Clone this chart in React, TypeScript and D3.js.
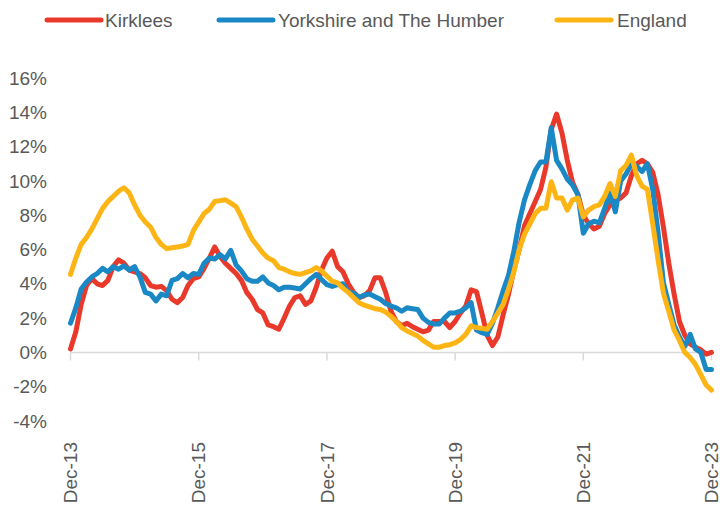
import * as d3 from 'd3';

const WIDTH = 723;
const HEIGHT = 508;

// monthly, Dec-13 .. Dec-23 (121 points), annual % change
const kirklees = [
  0.2, 1.2, 2.8, 3.9, 4.3, 4.0, 3.9, 4.2, 5.0, 5.4, 5.2, 4.8,
  4.7, 4.6, 4.35, 3.9, 3.8, 3.85, 3.6, 3.1, 2.9, 3.2, 3.9, 4.3,
  4.4, 4.9, 5.5, 6.15, 5.6, 5.2, 4.9, 4.6, 4.2, 3.5, 3.1, 2.5,
  2.3, 1.6, 1.5, 1.35, 2.0, 2.7, 3.2, 3.3, 2.8, 3.0, 3.8, 4.8,
  5.5, 5.9, 5.0, 4.7, 4.0, 3.5, 3.2, 3.3, 3.6, 4.35, 4.35, 3.5,
  2.4, 1.8, 1.55, 1.7, 1.5, 1.35, 1.2, 1.3, 1.8, 1.8, 1.8, 1.45,
  1.8, 2.3, 2.7, 3.65, 3.55, 2.3, 1.0, 0.4, 0.9, 2.2, 3.4, 4.8,
  6.0, 7.4, 8.1, 8.8, 9.5, 10.8, 13.0, 13.9, 12.8, 11.2, 9.9, 9.2,
  8.0, 7.5, 7.2, 7.35, 8.1, 8.6, 8.9, 9.0, 9.3, 10.3, 11.0, 11.2,
  11.0, 10.5, 9.2, 7.3, 5.2, 3.4, 1.8, 1.0, 0.5, 0.3, 0.15, -0.1,
  0.0,
];

const yorkshire = [
  1.7, 2.6, 3.7, 4.1, 4.4, 4.6, 4.9, 4.7, 5.0, 4.85, 5.05, 4.8,
  5.0, 4.4, 3.5, 3.4, 3.0, 3.4, 3.3, 4.2, 4.3, 4.6, 4.35, 4.6,
  4.55, 5.2, 5.5, 5.45, 5.7, 5.45, 5.95, 5.1, 4.75, 4.3, 4.15, 4.15,
  4.4, 4.05, 3.9, 3.65, 3.8, 3.8, 3.75, 3.7, 4.0, 4.3, 4.55, 4.25,
  3.95, 3.85, 3.95, 4.0, 3.55, 3.45, 3.2, 3.35, 3.4, 3.25, 3.1, 2.85,
  2.7, 2.6, 2.4, 2.6, 2.55, 2.5, 2.0, 1.75, 1.65, 1.65, 2.0, 2.3,
  2.3, 2.4, 2.6, 2.9, 1.3, 1.15, 1.05, 1.7, 2.6, 3.6, 4.5, 5.9,
  7.6, 8.9, 9.8, 10.6, 11.1, 11.1, 13.1, 11.2, 10.7, 10.1, 9.75, 9.2,
  6.95, 7.5, 7.65, 7.55, 8.4, 9.3, 8.2, 10.0, 10.4, 11.0, 10.85, 10.55,
  11.0, 9.5, 7.0, 4.05, 2.8, 1.6, 0.9, 0.35, 1.05, 0.2, 0.0, -1.0,
  -1.0,
];

const england = [
  4.55, 5.5, 6.3, 6.7, 7.2, 7.8, 8.4, 8.8, 9.1, 9.4, 9.6, 9.3,
  8.6, 8.0, 7.6, 7.3, 6.7, 6.3, 6.05, 6.1, 6.15, 6.2, 6.3, 7.1,
  7.6, 8.1, 8.35, 8.8, 8.85, 8.9, 8.7, 8.5, 7.9, 7.2, 6.6, 6.2,
  5.8, 5.5, 5.35, 4.95, 4.85, 4.7, 4.6, 4.55, 4.65, 4.75, 4.95, 4.75,
  4.45, 4.15, 4.05, 3.75, 3.5, 3.2, 2.9, 2.75, 2.65, 2.55, 2.5, 2.35,
  2.1, 1.8, 1.45, 1.25, 1.1, 0.95, 0.7, 0.5, 0.3, 0.3, 0.4, 0.45,
  0.55, 0.75, 1.05, 1.55, 1.45, 1.4, 1.35, 1.8, 2.3, 2.8, 3.7, 4.7,
  6.0, 6.9, 7.5, 8.1, 8.4, 8.4, 9.95, 9.0, 9.0, 8.3, 8.9, 9.0,
  7.9, 8.3, 8.5, 8.6, 9.1, 9.85, 9.1, 10.6, 10.9, 11.5, 10.3, 9.7,
  9.5, 7.5, 5.4, 3.45, 2.4, 1.3, 0.7, 0.0, -0.3, -0.7, -1.3, -1.9,
  -2.2,
];

const yTicks = [-4, -2, 0, 2, 4, 6, 8, 10, 12, 14, 16];
const xTickLabels = ['Dec-13', 'Dec-15', 'Dec-17', 'Dec-19', 'Dec-21', 'Dec-23'];

const series = [
  { name: 'Kirklees', values: kirklees, color: '#E8392B' },
  { name: 'Yorkshire and The Humber', values: yorkshire, color: '#1A88C4' },
  { name: 'England', values: england, color: '#FDB515' },
];

const FONT = '"Liberation Sans", Arial, sans-serif';
const TEXT_COLOR = '#595959';

export default function App() {
  const x = d3.scaleLinear().domain([0, 120]).range([70.5, 711.5]);
  const y = d3.scaleLinear().domain([-4, 16]).range([421, 78]);

  const line = d3
    .line<number>()
    .x((_, i) => x(i))
    .y((d) => y(d))
    .curve(d3.curveLinear);

  // legend layout (line start, text start)
  const legendPos = [
    { lx: 47, tx: 105 },
    { lx: 219, tx: 278 },
    { lx: 557, tx: 617 },
  ];

  return (
    <svg
      width={WIDTH}
      height={HEIGHT}
      style={{ position: 'absolute', left: 0, top: 0, background: '#fff' }}
      fontFamily={FONT}
    >
      {/* legend */}
      {series.map((s, i) => (
        <g key={s.name}>
          <line
            x1={legendPos[i].lx}
            x2={legendPos[i].lx + 54}
            y1={20}
            y2={20}
            stroke={s.color}
            strokeWidth={5}
            strokeLinecap="round"
          />
          <text x={legendPos[i].tx} y={20} dy="0.35em" fontSize={19} fill={TEXT_COLOR}>
            {s.name}
          </text>
        </g>
      ))}

      {/* y axis labels */}
      {yTicks.map((t) => (
        <text
          key={t}
          x={47}
          y={y(t)}
          dy="0.35em"
          textAnchor="end"
          fontSize={19}
          fill={TEXT_COLOR}
        >
          {`${t}%`}
        </text>
      ))}

      {/* x axis at 0% */}
      <line x1={x(0)} x2={x(120)} y1={y(0)} y2={y(0)} stroke="#D9D9D9" strokeWidth={1.5} />
      {xTickLabels.map((lab, i) => {
        const px = x(i * 24);
        return (
          <g key={lab}>
            <line x1={px} x2={px} y1={y(0)} y2={y(0) + 8} stroke="#D9D9D9" strokeWidth={1.5} />
            <text
              transform={`translate(${px},442) rotate(-90)`}
              dy="0.35em"
              textAnchor="end"
              fontSize={19}
              fill={TEXT_COLOR}
            >
              {lab}
            </text>
          </g>
        );
      })}

      {/* series lines */}
      {series.map((s) => (
        <path
          key={s.name}
          d={line(s.values) ?? ''}
          fill="none"
          stroke={s.color}
          strokeWidth={5}
          strokeLinejoin="round"
          strokeLinecap="round"
        />
      ))}
    </svg>
  );
}
